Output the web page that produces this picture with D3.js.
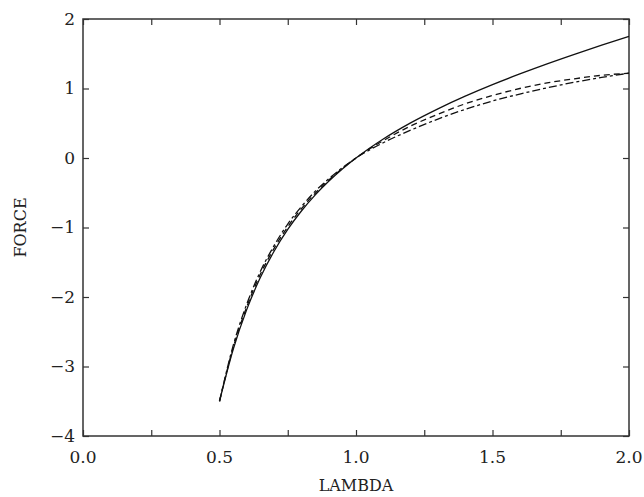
<!DOCTYPE html>
<html>
<head>
<meta charset="utf-8">
<script src="https://cdn.jsdelivr.net/npm/d3@7"></script>
<style>
  body { margin: 0; background: #fff; }
  text { font-family: "DejaVu Serif", "Liberation Serif", serif; fill: #222; }
</style>
</head>
<body>
<div id="chart"></div>
<script>
// stretch values (x) shared by all curves
const lambdas = [0.5, 0.55, 0.6, 0.65, 0.7, 0.75, 0.8, 0.85, 0.9, 0.95, 1.0,
  1.1, 1.2, 1.3, 1.4, 1.5, 1.6, 1.7, 1.8, 1.9, 2.0];

// solid curve
const forceSolid = [-3.5, -2.756, -2.178, -1.717, -1.341, -1.028, -0.763, -0.534, -0.335, -0.158, 0,
  0.274, 0.506, 0.708, 0.890, 1.056, 1.209, 1.354, 1.491, 1.623, 1.75];

// short dashed curve
const forceDashA = [-3.5, -2.73, -2.14, -1.67, -1.30, -0.99, -0.73, -0.51, -0.32, -0.15, 0,
  0.25, 0.46, 0.63, 0.78, 0.90, 1.00, 1.08, 1.14, 1.19, 1.22];

// long/short dashed curve
const forceDashB = [-3.5, -2.70, -2.10, -1.63, -1.26, -0.95, -0.70, -0.48, -0.30, -0.14, 0,
  0.22, 0.40, 0.56, 0.70, 0.82, 0.92, 1.01, 1.09, 1.16, 1.22];

const xTicks = [0, 0.25, 0.5, 0.75, 1.0, 1.25, 1.5, 1.75, 2.0];
const xTickLabels = [0, 0.5, 1.0, 1.5, 2.0];
const yTicks = [-4, -3, -2, -1, 0, 1, 2];

const config = {
  containerWidth: 644,
  containerHeight: 497,
  margin: { top: 19, right: 15, bottom: 61, left: 83 }
};

const width = config.containerWidth - config.margin.left - config.margin.right;
const height = config.containerHeight - config.margin.top - config.margin.bottom;

const svg = d3.select("#chart")
  .append("svg")
  .attr("width", config.containerWidth)
  .attr("height", config.containerHeight);

const chart = svg.append("g")
  .attr("transform", `translate(${config.margin.left},${config.margin.top})`);

const xScale = d3.scaleLinear().domain([0, 2]).range([0, width]);
const yScale = d3.scaleLinear().domain([-4, 2]).range([height, 0]);

const tickLen = 6;
const fmtY = d => d < 0 ? "\u2212" + Math.abs(d) : String(d);

// bottom axis: inward ticks
chart.append("g")
  .attr("transform", `translate(0,${height})`)
  .call(d3.axisBottom(xScale).tickValues(xTicks).tickSize(-tickLen).tickFormat(""));

// tick labels only at every 0.5
chart.append("g")
  .selectAll("text")
  .data(xTickLabels)
  .join("text")
  .attr("x", d => xScale(d))
  .attr("y", height + 27)
  .attr("text-anchor", "middle")
  .style("font-size", "17px")
  .text(d => d.toFixed(1));

chart.append("g")
  .call(d3.axisTop(xScale).tickValues(xTicks).tickSize(-tickLen).tickFormat(""));

chart.append("g")
  .call(d3.axisLeft(yScale).tickValues(yTicks).tickSize(-tickLen).tickFormat(""));

chart.append("g")
  .attr("transform", `translate(${width},0)`)
  .call(d3.axisRight(yScale).tickValues(yTicks).tickSize(-tickLen).tickFormat(""));

chart.append("g")
  .selectAll("text")
  .data(yTicks)
  .join("text")
  .attr("x", -8)
  .attr("y", d => yScale(d))
  .attr("dy", "0.35em")
  .attr("text-anchor", "end")
  .style("font-size", "17px")
  .text(fmtY);

// remove d3 domain paths, draw a plain frame instead
chart.selectAll(".domain").remove();
chart.selectAll(".tick line").attr("stroke", "#333").attr("stroke-width", 1.2);

chart.append("rect")
  .attr("x", 0).attr("y", 0)
  .attr("width", width).attr("height", height)
  .attr("fill", "none")
  .attr("stroke", "#333")
  .attr("stroke-width", 1.5);

// curves
const line = d3.line()
  .x(d => xScale(d[0]))
  .y(d => yScale(d[1]))
  .curve(d3.curveMonotoneX);

const series = [
  { values: forceSolid, dash: null },
  { values: forceDashA, dash: "6,4" },
  { values: forceDashB, dash: "8,3,3,3" }
];

chart.selectAll(".curve")
  .data(series)
  .join("path")
  .attr("class", "curve")
  .attr("d", s => line(lambdas.map((l, i) => [l, s.values[i]])))
  .attr("fill", "none")
  .attr("stroke", "#111")
  .attr("stroke-width", 1.3)
  .attr("stroke-dasharray", s => s.dash);

// axis titles
svg.append("text")
  .attr("x", config.margin.left + width / 2)
  .attr("y", 491)
  .attr("text-anchor", "middle")
  .style("font-size", "16px")
  .text("LAMBDA");

svg.append("text")
  .attr("transform", `translate(26,${config.margin.top + height / 2}) rotate(-90)`)
  .attr("text-anchor", "middle")
  .style("font-size", "16px")
  .text("FORCE");
</script>
</body>
</html>
